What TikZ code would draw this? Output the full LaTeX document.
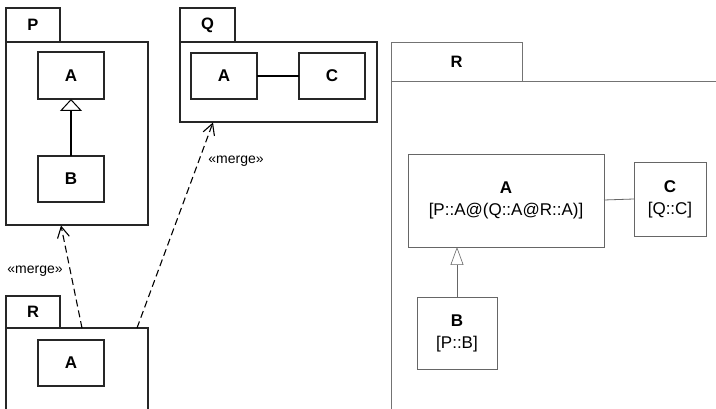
\documentclass[tikz,border=0pt]{standalone}
\usepackage{fontspec}
\setmainfont{Liberation Sans}
\usetikzlibrary{arrows.meta}
\begin{document}
\begin{tikzpicture}[x=1pt,y=-1pt,
  frame/.style={draw=black!85,line width=1.2pt,fill=white,inner sep=0pt,outer sep=0pt},
  pkgtab/.style={frame,font=\fontsize{16.5}{18}\selectfont\bfseries},
  cls/.style={frame,font=\fontsize{17}{19}\selectfont\bfseries},
  gframe/.style={draw=black!55,line width=0.8pt,fill=white,inner sep=0pt,outer sep=0pt},
  gcls/.style={draw=black!60,line width=0.8pt,fill=white,inner sep=0pt,outer sep=0pt,
    align=center,font=\fontsize{17}{22}\selectfont},
  merge/.style={draw=black,line width=1.1pt,dash pattern=on 7pt off 4pt,
    -{Straight Barb[length=11pt,width=12pt,line width=1.1pt]}},
  mlabel/.style={font=\fontsize{14}{16}\selectfont},
  gen/.style={-{Triangle[open,fill=white,length=12pt,width=22pt,line width=1pt]},line width=1.8pt},
  ggen/.style={draw=black!60,line width=0.8pt,-{Triangle[open,fill=white,length=18pt,width=13pt,line width=0.6pt]}}
]
\useasboundingbox (0,0) rectangle (716,409);
\fill[white] (0,0) rectangle (716,409);
\clip (0,0) rectangle (716,409);

% package P
\node[pkgtab,minimum width=54pt,minimum height=34pt] (ptab) at (33,25) {P};
\node[frame,minimum width=142pt,minimum height=183pt] (pbody) at (77,133.5) {};
\node[cls,minimum width=66pt,minimum height=47pt] (pa) at (71,75.5) {A};
\node[cls,minimum width=66pt,minimum height=46pt] (pb) at (71,179) {B};
\draw[gen] (pb) -- (pa);

% package Q
\node[pkgtab,minimum width=55pt,minimum height=34pt] (qtab) at (207.5,25) {Q};
\node[frame,minimum width=197pt,minimum height=80pt] (qbody) at (278.5,82) {};
\node[cls,minimum width=66pt,minimum height=46pt] (qa) at (224,76) {A};
\node[cls,minimum width=66pt,minimum height=46pt] (qc) at (332,76) {C};
\draw[line width=1.4pt] (qa) -- (qc);

% package R (merging)
\node[pkgtab,minimum width=54pt,minimum height=32pt] (rtab) at (33,312) {R};
\node[frame,minimum width=142pt,minimum height=100pt] (rbody) at (77,378) {};
\node[cls,minimum width=66pt,minimum height=46pt] (ra) at (71,363) {A};

% merge dependencies
\coordinate (m1s) at (82,328);
\coordinate (m1e) at (61,225.5);
\coordinate (m2s) at (137,328);
\coordinate (m2e) at (213,122.5);
\draw[merge] (m1s) -- (m1e);
\draw[merge] (m2s) -- (m2e);
\node[mlabel] (lab1) at (35,271) {«merge»};
\node[mlabel] (lab2) at (236,161) {«merge»};

% resulting package R
\node[gframe,font=\fontsize{16.5}{18}\selectfont\bfseries,minimum width=131pt,minimum height=39pt] (rrtab) at (456.5,61.5) {R};
\node[gframe,minimum width=340pt,minimum height=340pt] (rrbody) at (561,251) {};
\node[gcls,minimum width=196pt,minimum height=93pt] (rra) at (506,200.5) {\textbf{A}\\{[P::A@(Q::A@R::A)]}};
\node[gcls,minimum width=72pt,minimum height=74pt] (rrc) at (670,199) {\textbf{C}\\{[Q::C]}};
\node[gcls,minimum width=80pt,minimum height=72pt] (rrb) at (457,333) {\textbf{B}\\{[P::B]}};
\draw[draw=black!60,line width=0.8pt] (rra.east |- 0,200) -- (rrc.west |- 0,199);
\draw[ggen] (rrb.north) -- (rrb.north |- rra.south);
\end{tikzpicture}
\end{document}
